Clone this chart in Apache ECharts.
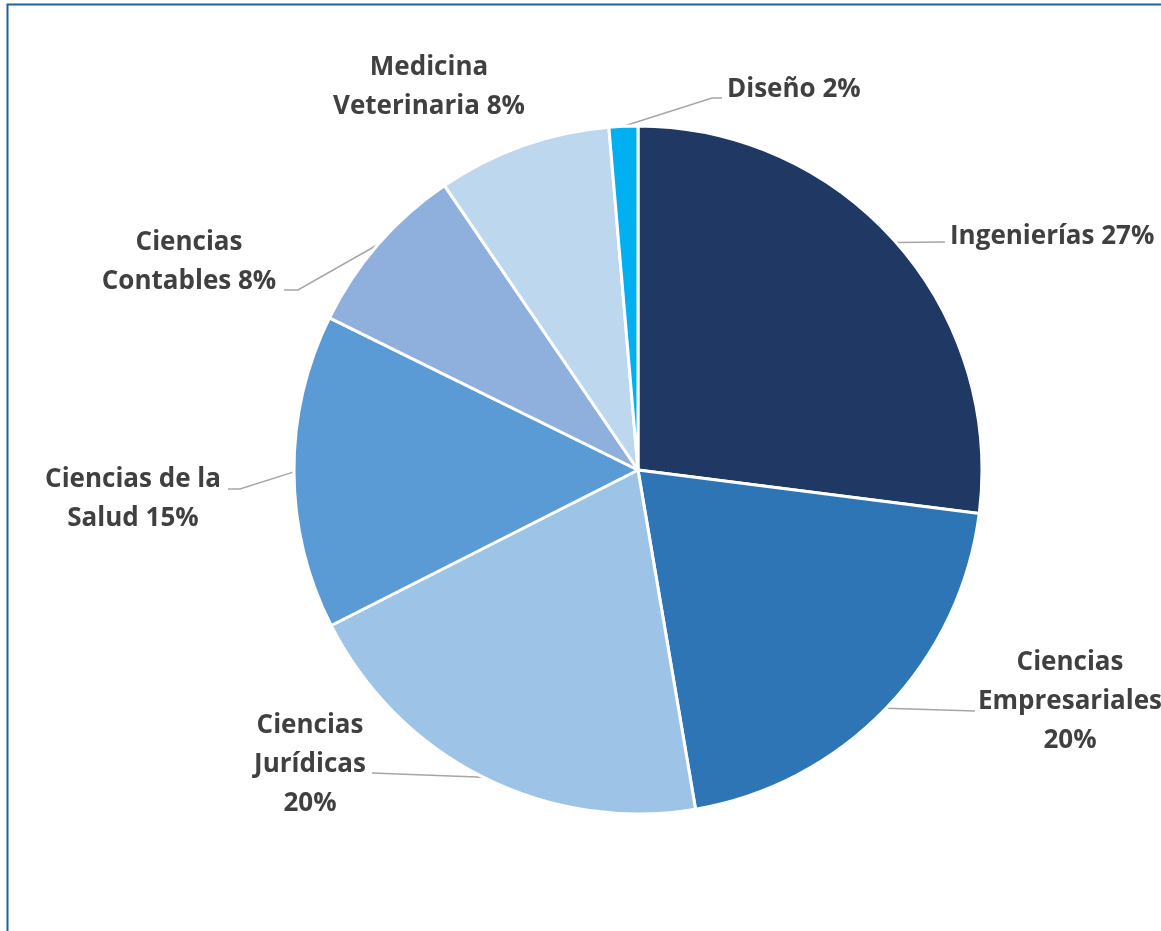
<!DOCTYPE html>
<html>
<head>
<meta charset="utf-8">
<script src="https://cdn.jsdelivr.net/npm/echarts@6/dist/echarts.min.js"></script>
<style>
html,body{margin:0;padding:0;background:#fff;}
#chart{width:1161px;height:931px;}
</style>
</head>
<body>
<div id="chart"></div>
<script>
// ---- data ----
const categories = ["Ingenierías", "Ciencias Empresariales", "Ciencias Jurídicas", "Ciencias de la Salud", "Ciencias Contables", "Medicina Veterinaria", "Diseño"];
const values = [27.0, 20.3, 20.2, 14.75, 8.2, 8.15, 1.35];
const pctLabels = ["27%", "20%", "20%", "15%", "8%", "8%", "2%"];
const labelTexts = ["Ingenierías 27%", "Ciencias\nEmpresariales\n20%", "Ciencias\nJurídicas\n20%", "Ciencias de la\nSalud 15%", "Ciencias\nContables 8%", "Medicina\nVeterinaria 8%", "Diseño 2%"];
const colors = ["#203864", "#2E75B6", "#9DC3E6", "#5B9BD5", "#8FB0DC", "#BDD7EE", "#00B0F0"];

// ---- label layout (style) ----
const labelPos = [
  {x: 950, y: 237, align: 'left', bend: [945, 242], end: [945, 242]},
  {x: 1070, y: 702, align: 'center', bend: [975, 711], end: [975, 711]},
  {x: 310, y: 765, align: 'center', bend: [372, 773], end: [372, 773]},
  {x: 133, y: 499, align: 'center', bend: [240, 489], end: [228, 489]},
  {x: 189, y: 262, align: 'center', bend: [298, 290], end: [284, 290]},
  {x: 429, y: 87, align: 'center', bend: null, end: null},
  {x: 727, y: 90, align: 'left', bend: [712, 98], end: [722, 98]}
];

const chart = echarts.init(document.getElementById('chart'), null, {renderer: 'canvas'});
chart.setOption({
  backgroundColor: '#ffffff',
  animation: false,
  graphic: [{
    type: 'rect',
    shape: {x: 7.5, y: 4.5, width: 1300, height: 1100},
    style: {fill: 'none', stroke: '#21609C', lineWidth: 2},
    silent: true
  }],
  series: [{
    type: 'pie',
    center: [638, 470],
    radius: 344,
    startAngle: 90,
    clockwise: true,
    avoidLabelOverlap: false,
    itemStyle: {borderColor: '#ffffff', borderWidth: 3},
    label: {
      show: true,
      position: 'outside',
      alignTo: 'none',
      formatter: p => labelTexts[p.dataIndex],
      color: '#404040',
      fontFamily: '"Open Sans", sans-serif',
      fontWeight: 'bold',
      fontSize: 26,
      lineHeight: 39
    },
    labelLine: {
      show: true,
      length: 20,
      length2: 10,
      lineStyle: {color: '#A6A6A6', width: 1.5}
    },
    labelLayout: function (params) {
      const i = params.dataIndex;
      const lp = labelPos[i];
      const p0 = params.labelLinePoints ? params.labelLinePoints[0] : null;
      const res = {x: lp.x, y: lp.y, align: lp.align, verticalAlign: 'middle'};
      if (p0 && lp.bend) {
        res.labelLinePoints = [p0, lp.bend, lp.end];
      } else if (p0) {
        res.labelLinePoints = [p0, p0, p0];
      }
      return res;
    },
    data: categories.map((c, i) => ({
      name: c,
      value: values[i],
      itemStyle: {color: colors[i]}
    }))
  }]
});
</script>
</body>
</html>
